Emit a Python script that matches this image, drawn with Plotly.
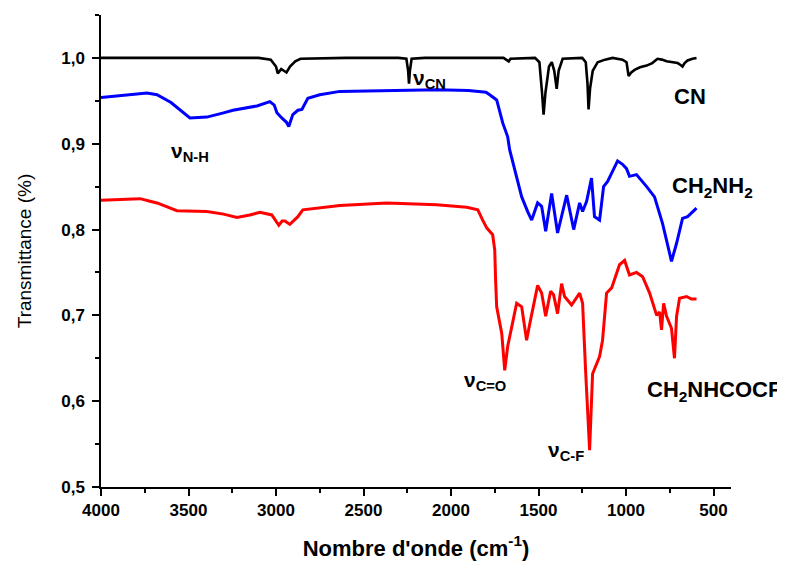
import plotly.graph_objects as go

# ---- data ----
cn_x = [4000, 3100, 3030, 3000, 2990, 2970, 2955, 2940, 2920, 2890, 2860, 2600, 2300, 2255, 2245, 2240, 2235, 2225, 2150,
        1700, 1670, 1660, 1520, 1495, 1480, 1471, 1460, 1440, 1424, 1410, 1396, 1385, 1362, 1300, 1250, 1230, 1220, 1214,
        1205, 1190, 1162, 1120, 1077, 1020, 997, 985, 970, 951, 920, 882, 850, 820, 795, 768, 740, 705, 690, 677, 665,
        648, 620, 597]
cn_y = [1.0, 1.0, 0.998, 0.99, 0.982, 0.987, 0.985, 0.983, 0.99, 0.996, 0.999, 1.0, 1.0, 0.999, 0.985, 0.970, 0.985, 0.999, 1.0,
        1.0, 0.996, 0.999, 1.0, 0.995, 0.96, 0.934, 0.96, 0.99, 0.995, 0.985, 0.964, 0.985, 0.999, 1.0, 1.0, 0.995, 0.97, 0.94,
        0.965, 0.985, 0.995, 0.998, 1.0, 0.998, 0.995, 0.979, 0.983, 0.986, 0.989, 0.991, 0.994, 0.999, 0.998, 0.996, 0.995,
        0.994, 0.992, 0.99, 0.994, 0.997, 0.999, 1.0]

nh2_x = [4000, 3900, 3800, 3737, 3680, 3600, 3492, 3395, 3300, 3246, 3109, 3035, 3010, 2995, 2967, 2940, 2927, 2915, 2904,
         2875, 2852, 2818, 2750, 2635, 2400, 2082, 1900, 1800, 1779, 1739, 1704, 1676, 1665, 1636, 1596, 1560, 1539, 1505,
         1482, 1459, 1425, 1391, 1339, 1299, 1265, 1248, 1225, 1197, 1180, 1151, 1128, 1105, 1048, 1020, 997, 980, 940, 882,
         837, 791, 740, 711, 677, 648, 620, 597]
nh2_y = [0.954, 0.956, 0.958, 0.959, 0.957, 0.948, 0.930, 0.931, 0.936, 0.939, 0.944, 0.949, 0.945, 0.936, 0.930, 0.925, 0.920,
         0.928, 0.934, 0.939, 0.94, 0.953, 0.957, 0.961, 0.962, 0.963, 0.962, 0.960, 0.957, 0.951, 0.924, 0.908, 0.893, 0.869,
         0.838, 0.82, 0.811, 0.831, 0.827, 0.798, 0.842, 0.796, 0.840, 0.800, 0.831, 0.821, 0.833, 0.860, 0.815, 0.811, 0.850,
         0.856, 0.880, 0.876, 0.871, 0.862, 0.864, 0.850, 0.838, 0.807, 0.763, 0.784, 0.813, 0.815, 0.820, 0.825]

tfa_x = [4000, 3900, 3777, 3720, 3680, 3566, 3395, 3300, 3223, 3150, 3092, 3024, 2984, 2965, 2949, 2921, 2875, 2847, 2635,
         2367, 2082, 1910, 1847, 1819, 1796, 1762, 1750, 1745, 1739, 1710, 1693, 1676, 1653, 1625, 1596, 1568, 1551, 1505,
         1482, 1459, 1431, 1414, 1391, 1368, 1351, 1311, 1265, 1248, 1231, 1208, 1191, 1151, 1134, 1111, 1082, 1037, 1008,
         980, 940, 905, 865, 825, 808, 797, 785, 768, 740, 723, 711, 694, 654, 626, 597]
tfa_y = [0.834, 0.835, 0.836, 0.833, 0.831, 0.822, 0.821, 0.818, 0.814, 0.817, 0.820, 0.817, 0.805, 0.81, 0.810, 0.806, 0.815,
         0.823, 0.828, 0.831, 0.829, 0.826, 0.823, 0.811, 0.802, 0.794, 0.776, 0.740, 0.710, 0.679, 0.636, 0.664, 0.687, 0.714,
         0.710, 0.671, 0.689, 0.735, 0.726, 0.699, 0.728, 0.724, 0.702, 0.737, 0.722, 0.712, 0.726, 0.714, 0.636, 0.543, 0.632,
         0.652, 0.671, 0.726, 0.732, 0.759, 0.764, 0.747, 0.750, 0.745, 0.726, 0.700, 0.704, 0.683, 0.714, 0.699, 0.685, 0.650,
         0.699, 0.720, 0.722, 0.719, 0.719]

x_ticks = [4000, 3500, 3000, 2500, 2000, 1500, 1000, 500]
x_labels = ["4000", "3500", "3000", "2500", "2000", "1500", "1000", "500"]
y_ticks = [0.5, 0.6, 0.7, 0.8, 0.9, 1.0]
y_labels = ["0,5", "0,6", "0,7", "0,8", "0,9", "1,0"]

FONT = "Liberation Sans, Arial, sans-serif"

fig = go.Figure()
fig.add_trace(go.Scatter(x=cn_x, y=cn_y, mode="lines", line=dict(color="#000000", width=2.6), showlegend=False))
fig.add_trace(go.Scatter(x=nh2_x, y=nh2_y, mode="lines", line=dict(color="#0000FF", width=3), showlegend=False))
fig.add_trace(go.Scatter(x=tfa_x, y=tfa_y, mode="lines", line=dict(color="#FF0000", width=3), showlegend=False))

def ann(x, y, text, size=22, xanchor="center"):
    fig.add_annotation(x=x, y=y, text=text, showarrow=False, xanchor=xanchor, yanchor="middle",
                       font=dict(family=FONT, size=size, color="black"))

ann(2125, 0.975, "<b>ν<sub>CN</sub></b>", size=21)
ann(632, 0.955, "<b>CN</b>")
ann(3490, 0.890, "<b>ν<sub>N-H</sub></b>", size=21)
ann(508, 0.849, "<b>CH<sub>2</sub>NH<sub>2</sub></b>")
ann(1805, 0.624, "<b>ν<sub>C=O</sub></b>", size=21)
ann(894, 0.612, "<b>CH<sub>2</sub>NHCOCF<sub>3</sub></b>", xanchor="left")
ann(1345, 0.542, "<b>ν<sub>C-F</sub></b>", size=21)

fig.update_layout(
    width=777, height=557,
    margin=dict(l=93, r=54, t=7, b=78),
    paper_bgcolor="white", plot_bgcolor="white",
    font=dict(family=FONT, color="black"),
    xaxis=dict(
        range=[4000, 400], tickvals=x_ticks, ticktext=["<b>%s</b>" % t for t in x_labels],
        showgrid=False, zeroline=False, automargin=False,
        showline=True, linecolor="black", linewidth=1.5, ticks="outside", ticklen=7, tickwidth=1.5,
        tickcolor="black", tickfont=dict(family=FONT, size=17, color="black"),
        minor=dict(dtick=250, ticks="outside", ticklen=4, tickwidth=1.5, tickcolor="black", showgrid=False),
        title=dict(text="<b>Nombre d'onde (cm<sup>-1</sup>)</b>", font=dict(family=FONT, size=22), standoff=21),
    ),
    yaxis=dict(
        range=[0.5, 1.05], tickvals=y_ticks, ticktext=["<b>%s</b>" % t for t in y_labels],
        showgrid=False, zeroline=False, automargin=False, ticklabelstandoff=4,
        showline=True, linecolor="black", linewidth=1.5, ticks="outside", ticklen=7, tickwidth=1.5,
        tickcolor="black", tickfont=dict(family=FONT, size=17, color="black"),
        minor=dict(dtick=0.05, ticks="outside", ticklen=4, tickwidth=1.5, tickcolor="black", showgrid=False),
        title=dict(text="Transmittance (%)", font=dict(family=FONT, size=19), standoff=25),
    ),
)

fig.write_html("out.html")
